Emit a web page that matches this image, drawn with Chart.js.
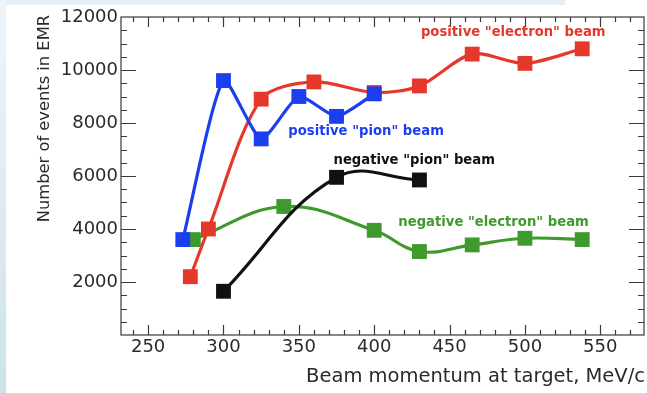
<!DOCTYPE html>
<html>
<head>
<meta charset="utf-8">
<script src="https://cdn.jsdelivr.net/npm/chart.js@4.4.1/dist/chart.umd.min.js"></script>
<style>
  html, body { margin: 0; padding: 0; background: #fff; }
  #wrap { width: 647px; height: 393px; }
</style>
</head>
<body>
<div id="wrap"><canvas id="chart" width="647" height="393"></canvas></div>
<script>
// beam momentum (MeV/c) and event counts
const posElectronX = [278, 290, 325, 360, 400, 430, 465, 500, 538];
const posElectronY = [2200, 4000, 8900, 9550, 9150, 9400, 10600, 10250, 10800];
const posPionX = [273, 300, 325, 350, 375, 400];
const posPionY = [3600, 9600, 7400, 9000, 8250, 9100];
const negPionX = [300, 375, 430];
const negPionY = [1650, 5950, 5850];
const negElectronX = [280, 340, 400, 430, 465, 500, 538];
const negElectronY = [3600, 4850, 3950, 3150, 3400, 3650, 3600];

const seriesNames = ['positive "electron" beam', 'positive "pion" beam', 'negative "pion" beam', 'negative "electron" beam'];
const xTicks = [250, 300, 350, 400, 450, 500, 550];
const yTicks = [2000, 4000, 6000, 8000, 10000, 12000];
const xTitle = 'Beam momentum at target, MeV/c';
const yTitle = 'Number of events in EMR';

const colors = {
    red: '#e5382a',
    blue: '#1c3ef0',
    black: '#111111',
    green: '#3f9a2e',
    frame: '#3a3a3a',
    text: '#2a2a2a',
};

function pts(xs, ys) {
    return xs.map((x, i) => ({ x: x, y: ys[i] }));
}

function series(label, xs, ys, color, order, tension) {
    return {
        label: label,
        data: pts(xs, ys),
        borderColor: color,
        backgroundColor: color,
        borderWidth: 3.2,
        tension: tension,
        pointStyle: 'rect',
        pointRadius: 10.5,
        pointBorderWidth: 0,
        order: order,
    };
}

// light blue slide frame around the figure
const pageBackground = {
    id: 'pageBackground',
    beforeDraw(chart) {
        const ctx = chart.ctx;
        ctx.save();
        ctx.fillStyle = '#ffffff';
        ctx.fillRect(0, 0, chart.width, chart.height);
        const g = ctx.createLinearGradient(0, 0, 0, chart.height);
        g.addColorStop(0, '#eef5f9');
        g.addColorStop(1, '#cde2e9');
        ctx.fillStyle = g;
        ctx.fillRect(0, 0, 6, chart.height);
        ctx.fillStyle = '#e6eef8';
        ctx.fillRect(6, 0, 559, 5);
        ctx.restore();
    },
};

// ROOT style frame: box with inward ticks on all four sides, axis titles, series labels
const rootFrame = {
    id: 'rootFrame',
    beforeDatasetsDraw(chart) {
        const ctx = chart.ctx;
        const a = chart.chartArea;
        const xs = chart.scales.x;
        const ys = chart.scales.y;
        ctx.save();
        ctx.strokeStyle = colors.frame;
        ctx.lineWidth = 1.2;
        ctx.strokeRect(a.left, a.top, a.right - a.left, a.bottom - a.top);

        ctx.beginPath();
        for (let v = 240; v <= xs.max; v += 10) {
            const px = Math.round(xs.getPixelForValue(v)) + 0.5;
            const len = v % 50 === 0 ? 10 : 5;
            ctx.moveTo(px, a.bottom); ctx.lineTo(px, a.bottom - len);
            ctx.moveTo(px, a.top); ctx.lineTo(px, a.top + len);
        }
        for (let v = 500; v < ys.max; v += 500) {
            const py = Math.round(ys.getPixelForValue(v)) + 0.5;
            const len = v % 2000 === 0 ? 15 : 6;
            ctx.moveTo(a.left, py); ctx.lineTo(a.left + len, py);
            ctx.moveTo(a.right, py); ctx.lineTo(a.right - len, py);
        }
        ctx.stroke();

        ctx.fillStyle = colors.text;
        ctx.font = '19.5px "DejaVu Sans"';
        ctx.textAlign = 'right';
        ctx.textBaseline = 'alphabetic';
        ctx.fillText(xTitle, a.right + 1, 382);

        ctx.translate(49, 15);
        ctx.rotate(-Math.PI / 2);
        ctx.font = '16.3px "DejaVu Sans"';
        ctx.textAlign = 'right';
        ctx.fillText(yTitle, 0, 0);
        ctx.restore();
    },
    afterDatasetsDraw(chart) {
        const ctx = chart.ctx;
        const xs = chart.scales.x;
        const ys = chart.scales.y;
        // anchors (left edge, vertical middle) in data space
        const spots = [
            { x: 431, y: 11400, color: colors.red },
            { x: 343, y: 7660, color: colors.blue },
            { x: 373, y: 6600, color: colors.black },
            { x: 416, y: 4230, color: colors.green },
        ];
        ctx.save();
        ctx.font = 'bold 13.2px "DejaVu Sans"';
        ctx.textBaseline = 'middle';
        ctx.textAlign = 'left';
        seriesNames.forEach((name, i) => {
            const s = spots[i];
            ctx.fillStyle = s.color;
            ctx.fillText(name, xs.getPixelForValue(s.x), ys.getPixelForValue(s.y));
        });
        ctx.restore();
    },
};

new Chart(document.getElementById('chart'), {
    type: 'line',
    data: {
        datasets: [
            series(seriesNames[0], posElectronX, posElectronY, colors.red, 2, 0.3),
            series(seriesNames[1], posPionX, posPionY, colors.blue, 1, 0.2),
            series(seriesNames[2], negPionX, negPionY, colors.black, 3, 0.4),
            series(seriesNames[3], negElectronX, negElectronY, colors.green, 4, 0.4),
        ],
    },
    options: {
        responsive: false,
        animation: false,
        layout: { autoPadding: false, padding: { top: 17, right: 3, left: 0, bottom: 0 } },
        plugins: {
            legend: { display: false },
            tooltip: { enabled: false },
        },
        scales: {
            x: {
                type: 'linear',
                min: 232,
                max: 579,
                grid: { display: false, drawTicks: false },
                border: { display: false },
                afterBuildTicks(scale) { scale.ticks = xTicks.map(v => ({ value: v })); },
                afterFit(scale) {
                    scale.height = 58;
                    scale.paddingLeft = 0;
                    scale.paddingRight = 0;
                },
                ticks: {
                    color: colors.text,
                    font: { family: 'DejaVu Sans', size: 18 },
                    padding: 2,
                    maxRotation: 0,
                    callback: v => String(v),
                },
            },
            y: {
                min: 0,
                max: 12000,
                grid: { display: false, drawTicks: false },
                border: { display: false },
                afterBuildTicks(scale) { scale.ticks = yTicks.map(v => ({ value: v })); },
                afterFit(scale) {
                    scale.width = 121;
                    scale.paddingTop = 0;
                    scale.paddingBottom = 0;
                },
                ticks: {
                    color: colors.text,
                    font: { family: 'DejaVu Sans', size: 18 },
                    padding: 3,
                    callback: v => String(v),
                },
            },
        },
    },
    plugins: [pageBackground, rootFrame],
});
</script>
</body>
</html>
